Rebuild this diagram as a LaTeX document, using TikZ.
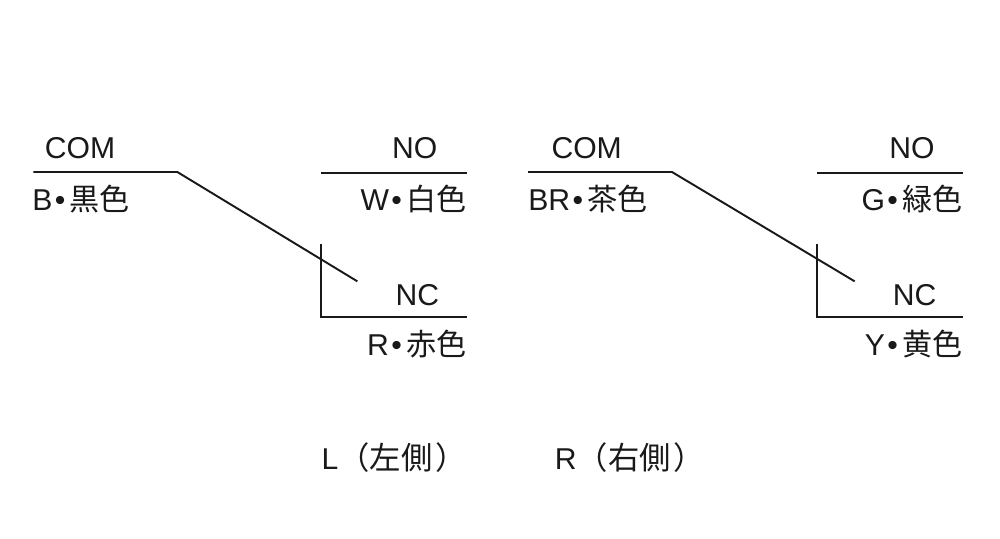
\documentclass[tikz,border=0pt]{standalone}
\usepackage{fontspec}
\setmainfont{Liberation Sans}
\newfontfamily\cjk{Noto Sans CJK JP}
\newfontfamily\cjkcap[Scale=1.04]{Noto Sans CJK JP}
\newcommand{\wdot}{\hspace{.08em}•\hspace{.14em}}
\begin{document}
\begin{tikzpicture}[x=1pt,y=-1pt,
    lab/.style = {inner sep=0pt, font=\fontsize{22.6}{22}\selectfont, text=black!90},
    wire/.style = {draw=black!90, line width=1.45pt}]
    \useasboundingbox (0,0) rectangle (750,404.25);
    % left switch
    \coordinate (lcomA) at (25,129);
    \coordinate (lcomB) at (133,129);
    \coordinate (lcomC) at (268,211);
    \coordinate (lnoA) at (241,130);
    \coordinate (lnoB) at (350,130);
    \coordinate (lncA) at (241,183);
    \coordinate (lncB) at (241,238);
    \coordinate (lncC) at (350,238);
    \node[lab] (lcom) at (60,111) {COM};
    \node[lab] (lno) at (311,111) {NO};
    \node[lab] (lnc) at (313,221) {NC};
    \node[lab,anchor=west] (lb) at (24,149) {B\wdot{\cjk 黒色}};
    \node[lab,anchor=east] (lw) at (350,149) {W\wdot{\cjk 白色}};
    \node[lab,anchor=east] (lr) at (350,258) {R\wdot{\cjk 赤色}};
    \draw[wire] (lcomA) -- (lcomB) -- (lcomC);
    \draw[wire] (lnoA) -- (lnoB);
    \draw[wire] (lncA) -- (lncB) -- (lncC);
    % right switch
    \coordinate (rcomA) at (396,129);
    \coordinate (rcomB) at (504,129);
    \coordinate (rcomC) at (641,211);
    \coordinate (rnoA) at (613,130);
    \coordinate (rnoB) at (722,130);
    \coordinate (rncA) at (613,183);
    \coordinate (rncB) at (613,238);
    \coordinate (rncC) at (722,238);
    \node[lab] (rcom) at (440,111) {COM};
    \node[lab] (rno) at (684,111) {NO};
    \node[lab] (rnc) at (686,221) {NC};
    \node[lab,anchor=west] (rb) at (396,149) {BR\wdot{\cjk 茶色}};
    \node[lab,anchor=east] (rg) at (722,149) {G\wdot{\cjk 緑色}};
    \node[lab,anchor=east] (ry) at (722,258) {Y\wdot{\cjk 黄色}};
    \draw[wire] (rcomA) -- (rcomB) -- (rcomC);
    \draw[wire] (rnoA) -- (rnoB);
    \draw[wire] (rncA) -- (rncB) -- (rncC);
    % captions
    \node[lab,anchor=west] (lcap) at (241,343) {L{\cjkcap （左側\hspace{.1em}）}};
    \node[lab,anchor=west] (rcap) at (416,343) {R{\cjkcap （右側\hspace{.1em}）}};
\end{tikzpicture}
\end{document}
